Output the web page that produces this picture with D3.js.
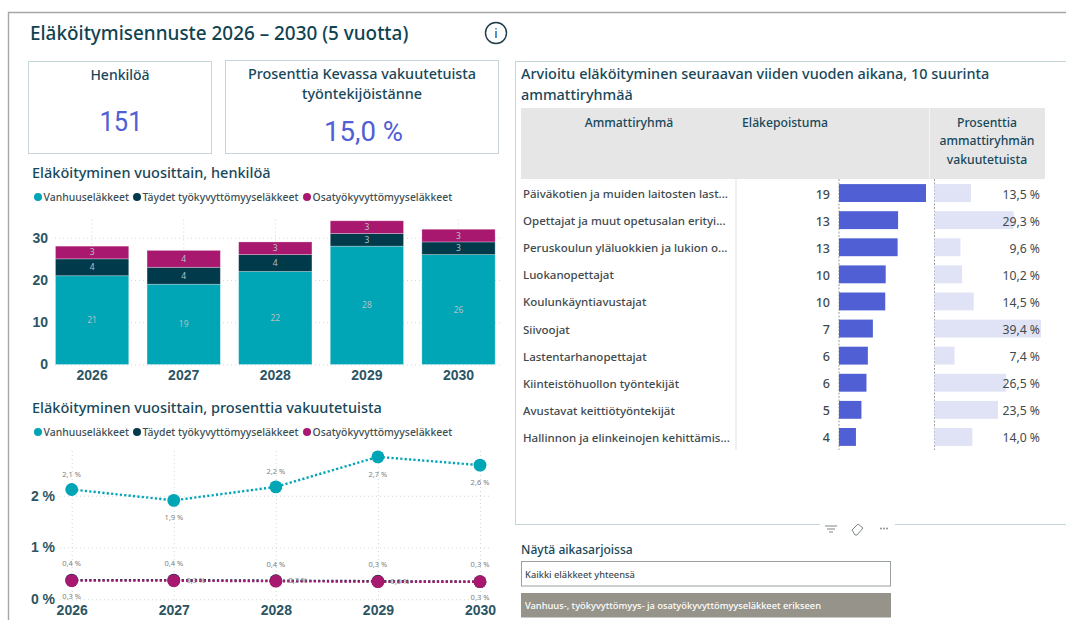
<!DOCTYPE html>
<html lang="fi">
<head>
<meta charset="utf-8">
<title>Eläköitymisennuste</title>
<script src="https://cdn.jsdelivr.net/npm/d3@7/dist/d3.min.js"></script>
<style>
html,body{margin:0;padding:0;background:#fff;overflow:hidden}
svg{display:block}
text{font-family:"Noto Sans","Open Sans",sans-serif}
</style>
</head>
<body>
<svg id="c" width="1066" height="620"></svg>
<script>
const years = ["2026","2027","2028","2029","2030"];
const seriesNames = ["Vanhuuseläkkeet","Täydet työkyvyttömyyseläkkeet","Osatyökyvyttömyyseläkkeet"];
const seriesColors = ["#00a5b6","#003a4b","#a8186f"];
const oldAgeCount = [21,19,22,28,26];
const fullDisabilityCount = [4,4,4,3,3];
const partDisabilityCount = [3,4,3,3,3];
const oldAgePct = [2.12,1.91,2.17,2.75,2.59];
const fullDisabilityPct = [0.37,0.37,0.36,0.35,0.34];
const partDisabilityPct = [0.36,0.36,0.35,0.34,0.34];
const oldAgePctLabels = ["2,1 %","1,9 %","2,2 %","2,7 %","2,6 %"];
const fullDisabilityPctLabels = ["0,3 %","0,3 %","0,3 %","0,3 %","0,3 %"];
const partDisabilityPctLabels = ["0,4 %","0,4 %","0,4 %","0,3 %","0,3 %"];
const occupations = ["Päiväkotien ja muiden laitosten last...","Opettajat ja muut opetusalan erityi...","Peruskoulun yläluokkien ja lukion o...","Luokanopettajat","Koulunkäyntiavustajat","Siivoojat","Lastentarhanopettajat","Kiinteistöhuollon työntekijät","Avustavat keittiötyöntekijät","Hallinnon ja elinkeinojen kehittämis..."];
const retirements = [19,12.9,12.8,10.2,10.1,7.4,6.3,6,4.9,3.7];
const occupationPct = [13.5,29.3,9.6,10.2,14.5,39.4,7.4,26.5,23.5,14.0];
const countTicks = [0,10,20,30];
const pctTicks = [0,1,2];

const INK="#17485a", BLUE="#5060d4", PALE="#e0e3f6", GRID="#d2d6d8", BORDER="#c5d5da", GREY="#808080";
const svg=d3.select("#c");
const txt=(x,y,s,size,opt={})=>{
  const t=svg.append("text").attr("x",x).attr("y",y).text(s)
  .attr("font-size",size).attr("fill",opt.fill||INK).attr("text-anchor",opt.anchor||"start")
  .attr("font-weight",opt.weight||400).attr("letter-spacing",opt.ls||null)
  .style("font-family",opt.font||null);
  if(opt.fit) t.attr("textLength",opt.fit).attr("lengthAdjust","spacingAndGlyphs");
  return t;
};
const box=(x,y,w,h,stroke,fill)=>svg.append("rect").attr("x",x).attr("y",y).attr("width",w).attr("height",h)
  .attr("fill",fill||"none").attr("stroke",stroke);
const fmtPct=v=>d3.format(".1f")(v).replace(".",",")+" %";
const styleAxisText=sel=>sel.selectAll("text").attr("font-size",14).attr("font-weight",600).attr("fill","#2c5563").style("font-family","inherit");

// frame
svg.append("path").attr("d","M8.5 620V12.5H1066").attr("fill","none").attr("stroke","#a6a6a6").attr("stroke-width",1.4);
txt(30,40,"Eläköitymisennuste 2026 – 2030 (5 vuotta)",18.9,{weight:500,fill:"#0f4350"});
svg.append("circle").attr("cx",496).attr("cy",33).attr("r",10.5).attr("fill","none").attr("stroke","#1c3c46").attr("stroke-width",1.4);
txt(496,38,"i",13,{anchor:"middle",fill:"#1c3c46"});

// KPI cards
box(28.5,61.5,183,92,BORDER);
box(225.5,60.5,273,93,BORDER);
txt(120,80,"Henkilöä",14,{anchor:"middle",weight:500});
txt(121,131,"151",27,{anchor:"middle",fill:BLUE,font:"Roboto",fit:43});
txt(362,79,"Prosenttia Kevassa vakuutetuista",14.4,{anchor:"middle",weight:500});
txt(362,99,"työntekijöistänne",14.4,{anchor:"middle",weight:500});
txt(363.5,141,"15,0 %",27,{anchor:"middle",fill:BLUE,font:"Roboto",fit:79});

function legend(y){
  const xs=[38,137,307];
  seriesNames.forEach((n,i)=>{
    svg.append("circle").attr("cx",xs[i]).attr("cy",y).attr("r",4).attr("fill",seriesColors[i]);
    txt(xs[i]+5.5,y+3.8,n,10.4,{fill:"#3d4f55",weight:500});
  });
}

// Chart 1: stacked bars
txt(32,178,"Eläköityminen vuosittain, henkilöä",14.5,{weight:500});
legend(197);
const x1=d3.scaleBand().domain(years).range([46.3,504.3]).paddingInner(0.2).paddingOuter(0.1);
const y1=d3.scaleLinear().domain([0,30]).range([364.5,237.7]);
const g1=svg.append("g");
const ax1=g1.append("g").attr("transform","translate(55,0)")
  .call(d3.axisLeft(y1).tickValues(countTicks).tickSize(-448).tickPadding(7));
ax1.select(".domain").remove();
ax1.selectAll("line").attr("stroke",GRID).attr("stroke-dasharray","1 3");
styleAxisText(ax1);
const vg1=g1.append("g").attr("transform","translate(0,364.5)")
  .call(d3.axisBottom(x1).tickSize(-148).tickPadding(6));
vg1.select(".domain").remove();
vg1.selectAll("line").attr("stroke",GRID).attr("stroke-dasharray","1 3");
styleAxisText(vg1);
const rows=years.map((y,i)=>({year:y,a:oldAgeCount[i],b:fullDisabilityCount[i],c:partDisabilityCount[i]}));
const stack=d3.stack().keys(["a","b","c"])(rows);
stack.forEach((layer,k)=>{
  const g=svg.append("g");
  g.selectAll("rect").data(layer).join("rect")
    .attr("x",d=>x1(d.data.year)).attr("width",x1.bandwidth())
    .attr("y",d=>y1(d[1])).attr("height",d=>y1(d[0])-y1(d[1]))
    .attr("fill",seriesColors[k]).attr("stroke","#fff").attr("stroke-opacity",.35).attr("stroke-width",.8);
  g.selectAll("text").data(layer).join("text")
    .attr("x",d=>x1(d.data.year)+x1.bandwidth()/2).attr("y",d=>(y1(d[0])+y1(d[1]))/2+3)
    .attr("text-anchor","middle").attr("font-size",8.5).attr("fill","#b4c0c4")
    .text(d=>d[1]-d[0]);
});

// Chart 2: lines
txt(32,413,"Eläköityminen vuosittain, prosenttia vakuutetuista",14.5,{weight:500});
legend(432);
const x2=d3.scalePoint().domain(years).range([71.7,480]);
const y2=d3.scaleLinear().domain([0,2]).range([599.3,495.7]);
const ax2=svg.append("g").attr("transform","translate(60,0)")
  .call(d3.axisLeft(y2).tickValues(pctTicks).tickFormat(d=>d+" %").tickSize(-430).tickPadding(5));
ax2.select(".domain").remove();
ax2.selectAll("line").attr("stroke",GRID).attr("stroke-dasharray","1 3");
styleAxisText(ax2);
const vg2=svg.append("g").attr("transform","translate(0,600)")
  .call(d3.axisBottom(x2).tickSize(-150).tickPadding(5));
vg2.select(".domain").remove();
vg2.selectAll("line").attr("stroke",GRID).attr("stroke-dasharray","1 3");
styleAxisText(vg2);
const line=d3.line().x((d,i)=>x2(years[i])).y(d=>y2(d));
[[fullDisabilityPct,1],[oldAgePct,0],[partDisabilityPct,2]].forEach(([vals,k])=>{
  svg.append("path").attr("d",line(vals)).attr("fill","none").attr("stroke",seriesColors[k])
    .attr("stroke-width",2.4).attr("stroke-dasharray","2.2 2.2");
  svg.append("g").selectAll("circle").data(vals).join("circle")
    .attr("cx",(d,i)=>x2(years[i])).attr("cy",d=>y2(d)).attr("r",6.4).attr("fill",seriesColors[k]);
});
// point labels
const smallLabel=(x,y,s)=>txt(x,y,s,7.5,{anchor:"middle",fill:GREY});
const oldOff=[-15,17.5,-15,17.5,17.5];
oldAgePctLabels.forEach((s,i)=>smallLabel(x2(years[i]),y2(oldAgePct[i])+oldOff[i]+2.5,s));
partDisabilityPctLabels.forEach((s,i)=>smallLabel(x2(years[i]),y2(partDisabilityPct[i])-17+2.5,s));
const fullDx=[0,22,22,22,0], fullDy=[16,0,0,0,16];
fullDisabilityPctLabels.forEach((s,i)=>smallLabel(x2(years[i])+fullDx[i],y2(fullDisabilityPct[i])+fullDy[i]+2.5,s));

// Right panel
svg.append("rect").attr("x",515.5).attr("y",61.5).attr("width",560).attr("height",463).attr("fill","none").attr("stroke",BORDER);
svg.append("rect").attr("x",820).attr("y",520).attr("width",75).attr("height",16).attr("fill","#fff");
txt(521,79,"Arvioitu eläköityminen seuraavan viiden vuoden aikana, 10 suurinta",14.45,{weight:500});
txt(521,100,"ammattiryhmää",14.45,{weight:500});
svg.append("rect").attr("x",521).attr("y",108).attr("width",524).attr("height",71).attr("fill","#e6e6e6");
svg.append("line").attr("x1",929.5).attr("x2",929.5).attr("y1",108).attr("y2",179).attr("stroke","#f4f4f4");
txt(629,127,"Ammattiryhmä",12.2,{anchor:"middle",weight:500});
txt(785,127,"Eläkepoistuma",12.2,{anchor:"middle",weight:500});
txt(987,127,"Prosenttia",12.2,{anchor:"middle",weight:500});
txt(987,145,"ammattiryhmän",12.2,{anchor:"middle",weight:500});
txt(987,164,"vakuutetuista",12.2,{anchor:"middle",weight:500});

const yR=d3.scaleBand().domain(occupations).range([179.5,450.5]).paddingInner(0.34).paddingOuter(0.17);
const xR=d3.scaleLinear().domain([0,19]).range([839,926]);
const xP=d3.scaleLinear().domain([0,39.4]).range([934.5,1041]);
svg.append("line").attr("x1",736).attr("x2",736).attr("y1",179).attr("y2",450).attr("stroke","#dfe3dc");
[839,934.5].forEach(x=>svg.append("line").attr("x1",x).attr("x2",x).attr("y1",179).attr("y2",450)
  .attr("stroke","#9a9fa1").attr("stroke-dasharray","2 1.5"));
const gp=svg.append("g");
gp.selectAll("rect").data(occupationPct).join("rect")
  .attr("x",xP(0)).attr("width",d=>xP(d)-xP(0))
  .attr("y",(d,i)=>yR(occupations[i])).attr("height",yR.bandwidth()).attr("fill",PALE);
const gb=svg.append("g");
gb.selectAll("rect").data(retirements).join("rect")
  .attr("x",xR(0)).attr("width",d=>xR(d)-xR(0))
  .attr("y",(d,i)=>yR(occupations[i])).attr("height",yR.bandwidth()).attr("fill",BLUE);
occupations.forEach((o,i)=>{
  const cy=yR(o)+yR.bandwidth()/2+5;
  txt(523,cy,o,11.5,{fill:"#3f4a4e",weight:500});
  txt(830,cy+.5,d3.format(".0f")(retirements[i]),12.5,{anchor:"end",fill:"#3f4a4e",weight:500});
  txt(1040,cy+.5,fmtPct(occupationPct[i]),12.2,{anchor:"end",fill:"#3f4a4e"});
});

// visual header icons
const ic=svg.append("g").attr("stroke","#7c8689").attr("fill","none").attr("stroke-width",1);
[[825,837,526],[827,835,529],[829,833,532]].forEach(d=>ic.append("line").attr("x1",d[0]).attr("x2",d[1]).attr("y1",d[2]).attr("y2",d[2]));
ic.append("path").attr("d","M852 530l6-6 5 4-6 7h-2z");
[881,884,887].forEach(x=>svg.append("circle").attr("cx",x).attr("cy",528.5).attr("r",.9).attr("fill","#7c8689"));

// slicer
txt(521,554,"Näytä aikasarjoissa",12.1,{weight:500});
svg.append("rect").attr("x",521.5).attr("y",561.5).attr("width",369).attr("height",24.5).attr("fill","#fff").attr("stroke","#9aa0a0");
txt(525,578,"Kaikki eläkkeet yhteensä",9.3,{fill:"#3f4a4e",weight:500});
svg.append("rect").attr("x",521).attr("y",593).attr("width",370).attr("height",24.5).attr("fill","#96948a");
txt(525,609,"Vanhuus-, työkyvyttömyys- ja osatyökyvyttömyyseläkkeet erikseen",9.3,{fill:"#fff",weight:500});
</script>
</body>
</html>
